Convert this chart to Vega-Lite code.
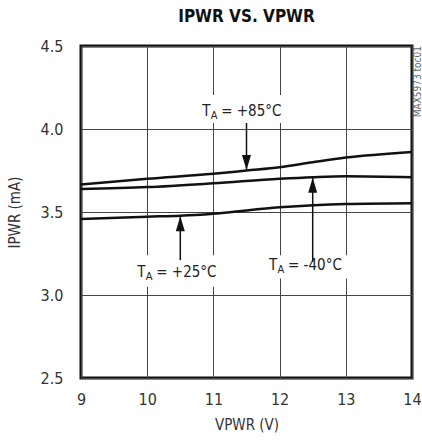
{
  "$schema": "https://vega.github.io/schema/vega-lite/v6.json",
  "width": 331,
  "height": 332,
  "autosize": {"type": "none"},
  "padding": {"left": 81, "top": 46, "right": 10, "bottom": 63},
  "background": "white",
  "title": {
    "text": "IPWR VS. VPWR",
    "font": "DejaVu Sans Condensed, sans-serif",
    "fontSize": 17,
    "fontWeight": "bold",
    "color": "#111",
    "offset": 12
  },
  "config": {
    "view": {"stroke": "#111", "strokeWidth": 3},
    "font": "DejaVu Sans Condensed, sans-serif",
    "axis": {
      "grid": true,
      "gridColor": "#444",
      "gridWidth": 1,
      "gridOpacity": 1,
      "domain": false,
      "ticks": false,
      "labelFlush": false,
      "labelFont": "DejaVu Sans Condensed, sans-serif",
      "labelFontSize": 16,
      "labelColor": "#333",
      "titleFont": "DejaVu Sans Condensed, sans-serif",
      "titleFontSize": 15,
      "titleFontWeight": "normal",
      "titleColor": "#333"
    }
  },
  "datasets": {
    "curves": [
      {"series": "+85°C", "v": 9, "i": 3.665},
      {"series": "+85°C", "v": 10, "i": 3.700},
      {"series": "+85°C", "v": 11, "i": 3.730},
      {"series": "+85°C", "v": 11.5, "i": 3.750},
      {"series": "+85°C", "v": 12, "i": 3.770},
      {"series": "+85°C", "v": 12.5, "i": 3.800},
      {"series": "+85°C", "v": 13, "i": 3.828},
      {"series": "+85°C", "v": 14, "i": 3.862},
      {"series": "-40°C", "v": 9, "i": 3.638},
      {"series": "-40°C", "v": 10, "i": 3.650},
      {"series": "-40°C", "v": 11, "i": 3.673},
      {"series": "-40°C", "v": 12, "i": 3.700},
      {"series": "-40°C", "v": 12.5, "i": 3.710},
      {"series": "-40°C", "v": 13, "i": 3.716},
      {"series": "-40°C", "v": 14, "i": 3.710},
      {"series": "+25°C", "v": 9, "i": 3.458},
      {"series": "+25°C", "v": 10, "i": 3.472},
      {"series": "+25°C", "v": 10.5, "i": 3.478},
      {"series": "+25°C", "v": 11, "i": 3.490},
      {"series": "+25°C", "v": 12, "i": 3.528},
      {"series": "+25°C", "v": 13, "i": 3.548},
      {"series": "+25°C", "v": 14, "i": 3.553}
    ],
    "arrows": [
      {"series": "+85°C", "v": 11.5, "tail": 4.036, "tip": 3.753, "dir": "down"},
      {"series": "+25°C", "v": 10.5, "tail": 3.21, "tip": 3.475, "dir": "up"},
      {"series": "-40°C", "v": 12.5, "tail": 3.20, "tip": 3.707, "dir": "up"}
    ],
    "labels": [
      {"series": "+85°C", "x": 10.83, "y": 4.11, "text": "= +85°C", "bx0": 10.78, "bx1": 12.18, "by0": 4.036, "by1": 4.205},
      {"series": "+25°C", "x": 9.85, "y": 3.14, "text": "= +25°C", "bx0": 9.80, "bx1": 11.2, "by0": 3.05, "by1": 3.24},
      {"series": "-40°C", "x": 11.84, "y": 3.18, "text": "= -40°C", "bx0": 11.79, "bx1": 13.19, "by0": 3.10, "by1": 3.24}
    ],
    "note": [
      {"v": 14, "i": 4.5, "text": "MAX5973 toc01"}
    ]
  },
  "encoding": {
    "x": {
      "type": "quantitative",
      "scale": {"domain": [9, 14], "nice": false},
      "axis": {"values": [9, 10, 11, 12, 13, 14], "title": "VPWR (V)", "labelPadding": 13, "titlePadding": 10}
    },
    "y": {
      "type": "quantitative",
      "scale": {"domain": [2.5, 4.5], "nice": false},
      "axis": {"values": [2.5, 3, 3.5, 4, 4.5], "format": ".1f", "title": "IPWR (mA)", "labelPadding": 18, "titlePadding": 18}
    }
  },
  "layer": [
    {
      "data": {"name": "labels"},
      "mark": {"type": "rect", "color": "white"},
      "encoding": {
        "x": {"field": "bx0"},
        "x2": {"field": "bx1"},
        "y": {"field": "by0"},
        "y2": {"field": "by1"}
      }
    },
    {
      "data": {"name": "curves"},
      "mark": {"type": "line", "color": "#111", "strokeWidth": 2.5, "interpolate": "monotone"},
      "encoding": {
        "x": {"field": "v"},
        "y": {"field": "i"},
        "detail": {"field": "series"}
      }
    },
    {
      "data": {"name": "arrows"},
      "mark": {"type": "rule", "color": "#111", "strokeWidth": 1.5},
      "encoding": {
        "x": {"field": "v"},
        "y": {"field": "tail"},
        "y2": {"field": "tip"}
      }
    },
    {
      "data": {"name": "arrows"},
      "mark": {"type": "point", "filled": true, "color": "#111", "opacity": 1, "size": 225},
      "encoding": {
        "x": {"field": "v"},
        "y": {"field": "tip"},
        "shape": {
          "field": "dir",
          "type": "nominal",
          "scale": {"domain": ["down", "up"], "range": ["M0,0L-0.6,-2L0.6,-2Z", "M0,0L-0.6,2L0.6,2Z"]},
          "legend": null
        }
      }
    },
    {
      "data": {"name": "labels"},
      "mark": {"type": "text", "align": "left", "baseline": "middle", "fontSize": 15, "color": "#222", "text": "T"},
      "encoding": {"x": {"field": "x"}, "y": {"field": "y"}}
    },
    {
      "data": {"name": "labels"},
      "mark": {"type": "text", "align": "left", "baseline": "middle", "fontSize": 11, "color": "#222", "text": "A", "dx": 8.5, "dy": 5},
      "encoding": {"x": {"field": "x"}, "y": {"field": "y"}}
    },
    {
      "data": {"name": "labels"},
      "mark": {"type": "text", "align": "left", "baseline": "middle", "fontSize": 15, "color": "#222", "dx": 19},
      "encoding": {"x": {"field": "x"}, "y": {"field": "y"}, "text": {"field": "text"}}
    },
    {
      "data": {"name": "note"},
      "mark": {"type": "text", "angle": 270, "align": "right", "baseline": "middle", "fontSize": 10, "color": "#666", "dx": 0, "dy": 6},
      "encoding": {"x": {"field": "v"}, "y": {"field": "i"}, "text": {"field": "text"}}
    }
  ]
}
